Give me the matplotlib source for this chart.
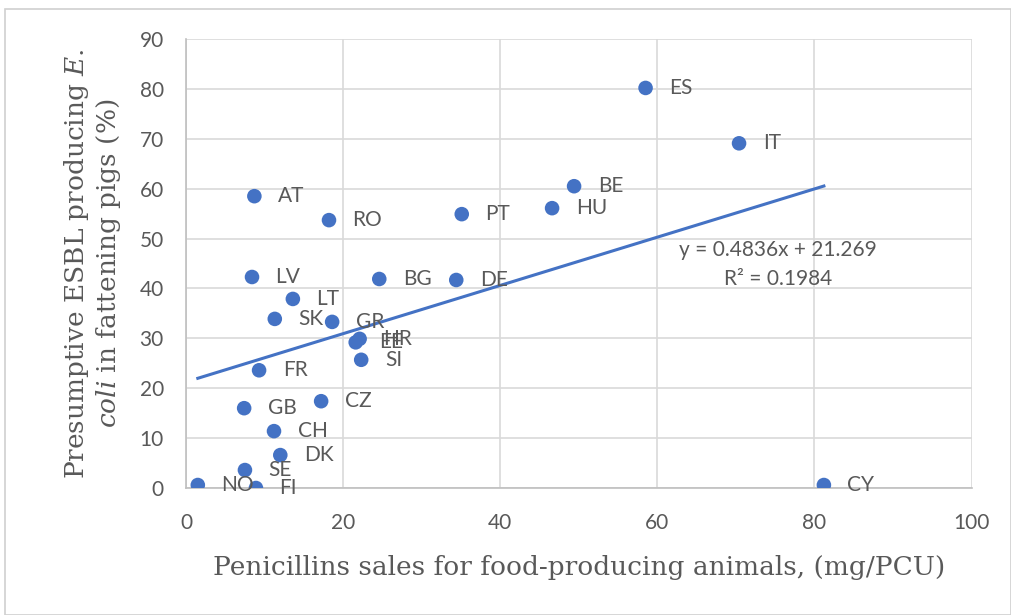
import matplotlib
matplotlib.use("Agg")
import matplotlib.pyplot as plt
from matplotlib.patches import Rectangle

plt.rcParams["mathtext.fontset"] = "custom"
plt.rcParams["mathtext.rm"] = "DejaVu Serif"
plt.rcParams["mathtext.it"] = "DejaVu Serif:italic"

countries = ["ES", "IT", "BE", "HU", "PT", "AT", "RO", "LV", "BG", "DE", "LT", "SK", "GR",
             "HR", "EE", "SI", "FR", "CZ", "GB", "CH", "DK", "SE", "NO", "FI", "CY"]
penicillin_sales = [58.5, 70.4, 49.4, 46.6, 35.1, 8.7, 18.2, 8.4, 24.6, 34.4, 13.6, 11.3, 18.6,
                    22.1, 21.6, 22.3, 9.3, 17.2, 7.4, 11.2, 12.0, 7.5, 1.5, 8.9, 81.2]
esbl_pct = [80.2, 69.1, 60.5, 56.1, 54.9, 58.5, 53.7, 42.3, 41.9, 41.7, 37.9, 33.9, 33.3,
            29.9, 29.2, 25.7, 23.6, 17.4, 16.0, 11.4, 6.6, 3.6, 0.6, 0.0, 0.6]
slope = 0.4836
intercept = 21.269
r_squared = 0.1984
x_ticks = [0, 20, 40, 60, 80, 100]
y_ticks = [0, 10, 20, 30, 40, 50, 60, 70, 80, 90]

blue = "#4472C4"
grey_text = "#595959"
label_font = "Lato"

fig = plt.figure(figsize=(10.11, 6.15), dpi=100)
fig.patches.append(Rectangle((0.005, 0.0), 0.995, 0.985, transform=fig.transFigure,
                             fill=False, edgecolor="#d0d0d0", linewidth=1.2))
ax = fig.add_axes([0.184, 0.2065, 0.777, 0.730])

ax.set_xlim(0, 100)
ax.set_ylim(0, 90)
ax.set_xticks(x_ticks)
ax.set_yticks(y_ticks)
ax.grid(True, color="#d9d9d9", linewidth=1.2)
ax.set_axisbelow(True)
for name, s in ax.spines.items():
    if name in ("left", "bottom"):
        s.set_color("#bfbfbf")
        s.set_linewidth(1.2)
    else:
        s.set_visible(False)
ax.tick_params(length=0, labelsize=15, labelcolor=grey_text)
ax.tick_params(axis="y", pad=16)
ax.tick_params(axis="x", pad=18)
for lab in ax.get_xticklabels() + ax.get_yticklabels():
    lab.set_fontfamily(label_font)

ax.scatter(penicillin_sales, esbl_pct, s=110, color=blue, zorder=3, edgecolors="none")

xmin, xmax = min(penicillin_sales), max(penicillin_sales)
ax.plot([xmin, xmax], [slope * xmin + intercept, slope * xmax + intercept],
        color=blue, linewidth=2.2, zorder=2)

for c, x, y in zip(countries, penicillin_sales, esbl_pct):
    ax.annotate(c, (x, y), xytext=(17, 0), textcoords="offset points",
                ha="left", va="center", fontsize=15, color=grey_text,
                family=label_font, zorder=4)

ax.text(75.4, 47.7, f"y = {slope}x + {intercept}", ha="center", va="center",
        fontsize=15, color=grey_text, family=label_font)
ax.text(75.4, 41.9, f"R² = {r_squared}", ha="center", va="center",
        fontsize=15, color=grey_text, family=label_font)

ax.set_xlabel("Penicillins sales for food-producing animals, (mg/PCU)",
              fontsize=19, color=grey_text, family="DejaVu Serif", labelpad=16)
ax.set_ylabel("Presumptive ESBL producing $\\it{E.}$\n$\\it{coli}$ in fattening pigs (%)",
              fontsize=19, color=grey_text, family="DejaVu Serif", labelpad=12,
              linespacing=1.15)

fig.savefig("out.png", dpi=100)
